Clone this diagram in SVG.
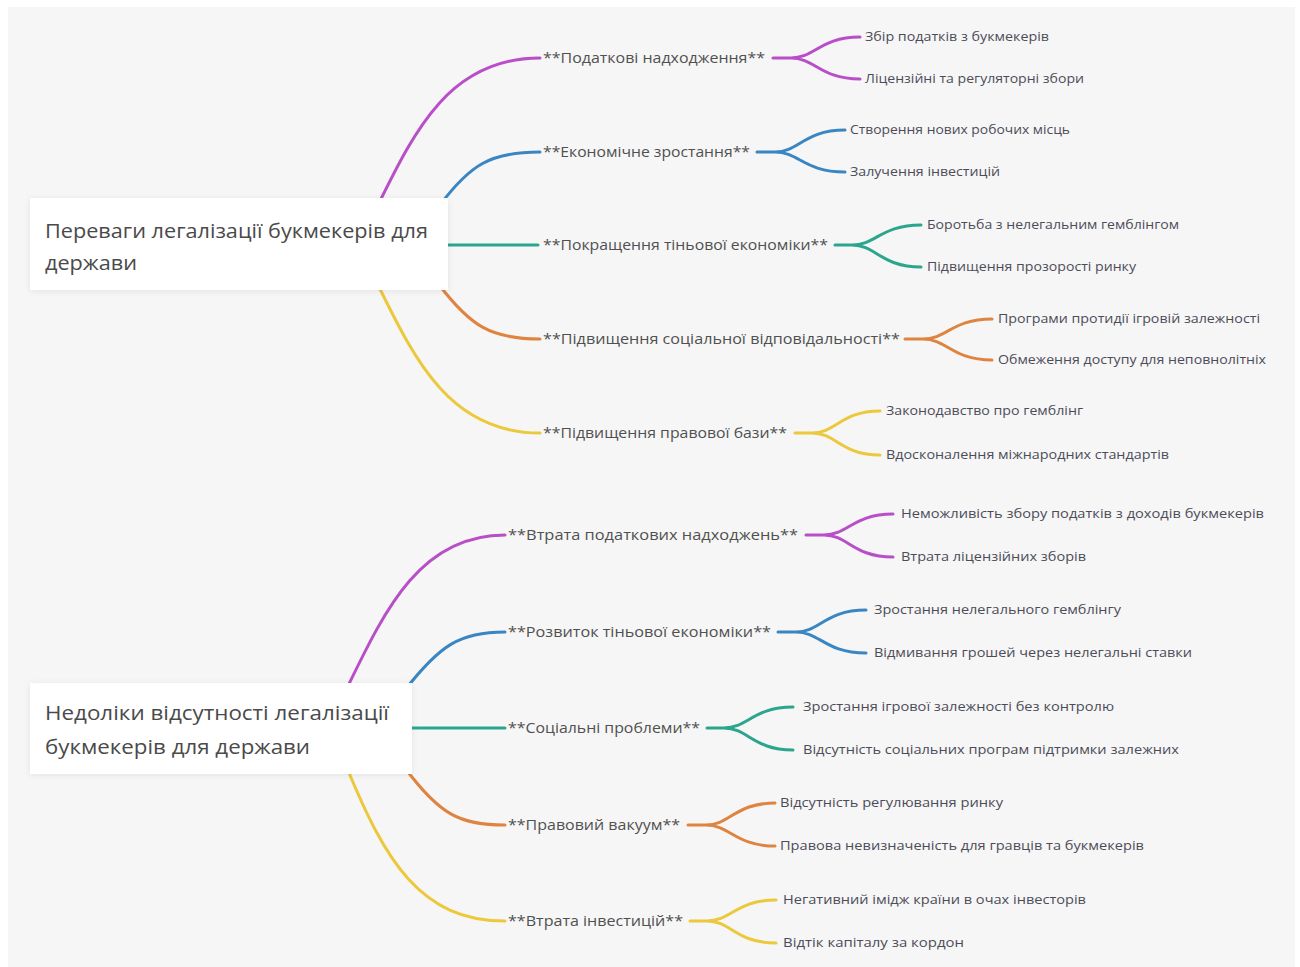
<svg xmlns="http://www.w3.org/2000/svg" width="1300" height="967" viewBox="0 0 1300 967">
<defs>
<filter id="sh" x="-10%" y="-20%" width="120%" height="140%">
<feDropShadow dx="0" dy="1" stdDeviation="3" flood-color="#000" flood-opacity="0.08"/>
</filter>
</defs>
<style>
.bg{fill:#f6f6f6}
.box{fill:#ffffff;filter:url(#sh)}
.root{font-family:"Open Sans","Noto Sans","DejaVu Sans",sans-serif;font-size:20px;fill:#4a4a4a;font-weight:500}
.l1{font-family:"Open Sans","Noto Sans","DejaVu Sans",sans-serif;font-size:15px;fill:#505050}
.l2{font-family:"Open Sans","Noto Sans","DejaVu Sans",sans-serif;font-size:12px;fill:#4c4c58}
.c{fill:none;stroke-width:3;stroke-linecap:round}
.pu{stroke:#b94fc8}
.bl{stroke:#3a86c2}
.te{stroke:#2ba68d}
.or{stroke:#de8440}
.ye{stroke:#ecc83c}
</style>
<rect x="0" y="0" width="1300" height="967" fill="#ffffff"/>
<rect class="bg" x="8" y="7" width="1287" height="960"/>

<g id="connectors">
<!-- top tree level 1 -->
<path class="c pu" d="M378,205 C415,130 450,58 540,58"/>
<path class="c bl" d="M440,205 C470,165 490,152 540,152"/>
<path class="c te" d="M445,245 H538"/>
<path class="c or" d="M440,286 C470,325 490,339 540,339"/>
<path class="c ye" d="M378,285 C415,360 450,433 540,433"/>
<!-- top tree level 2 -->
<path class="c pu" d="M773,58 L791,58 C815,58 820,37 860,37 M791,58 C815,58 820,79 860,79"/>
<path class="c bl" d="M757,152 L775,152 C799,152 804,130 845,130 M775,152 C799,152 804,172 845,172"/>
<path class="c te" d="M835,245 L852,245 C876,245 881,225 921,225 M852,245 C876,245 881,267 921,267"/>
<path class="c or" d="M905,339 L923,339 C947,339 952,319 992,319 M923,339 C947,339 952,360 992,360"/>
<path class="c ye" d="M795,433 L812,433 C836,433 841,411 880,411 M812,433 C836,433 841,455 880,455"/>
<!-- bottom tree level 1 -->
<path class="c pu" d="M347,688 C385,610 420,535 505,535"/>
<path class="c bl" d="M405,690 C440,645 460,632 505,632"/>
<path class="c te" d="M408,728 H505"/>
<path class="c or" d="M405,768 C440,815 460,825 505,825"/>
<path class="c ye" d="M347,768 C385,860 420,921 505,921"/>
<!-- bottom tree level 2 -->
<path class="c pu" d="M806,535 L824,535 C848,535 853,514 893,514 M824,535 C848,535 853,557 893,557"/>
<path class="c bl" d="M778,632 L796,632 C820,632 825,610 866,610 M796,632 C820,632 825,653 866,653"/>
<path class="c te" d="M707,728 L724,728 C748,728 753,707 793,707 M724,728 C748,728 753,750 793,750"/>
<path class="c or" d="M688,825 L706,825 C730,825 735,803 775,803 M706,825 C730,825 735,846 775,846"/>
<path class="c ye" d="M690,921 L707,921 C731,921 736,900 776,900 M707,921 C731,921 736,943 776,943"/>
</g>

<g id="root1">
<rect class="box" x="30" y="198" width="418" height="92"/>
<text class="root" x="45" y="238" textLength="383" lengthAdjust="spacingAndGlyphs">Переваги легалізації букмекерів для</text>
<text class="root" x="45" y="270" textLength="92" lengthAdjust="spacingAndGlyphs">держави</text>
</g>

<g id="root2">
<rect class="box" x="30" y="683" width="382" height="91"/>
<text class="root" x="45" y="720" textLength="344" lengthAdjust="spacingAndGlyphs">Недоліки відсутності легалізації</text>
<text class="root" x="45" y="754" textLength="265" lengthAdjust="spacingAndGlyphs">букмекерів для держави</text>
</g>

<g id="n-podatkovi"><text class="l1" x="543" y="63" textLength="222" lengthAdjust="spacingAndGlyphs">**Податкові надходження**</text></g>
<g id="n-zbir"><text class="l2" x="865" y="41" textLength="184" lengthAdjust="spacingAndGlyphs">Збір податків з букмекерів</text></g>
<g id="n-litsenziini"><text class="l2" x="865" y="83" textLength="219" lengthAdjust="spacingAndGlyphs">Ліцензійні та регуляторні збори</text></g>

<g id="n-ekonomichne"><text class="l1" x="543" y="157" textLength="207" lengthAdjust="spacingAndGlyphs">**Економічне зростання**</text></g>
<g id="n-stvorennia"><text class="l2" x="850" y="134" textLength="220" lengthAdjust="spacingAndGlyphs">Створення нових робочих місць</text></g>
<g id="n-zaluchennia"><text class="l2" x="850" y="176" textLength="150" lengthAdjust="spacingAndGlyphs">Залучення інвестицій</text></g>

<g id="n-pokrashchennia"><text class="l1" x="543" y="250" textLength="285" lengthAdjust="spacingAndGlyphs">**Покращення тіньової економіки**</text></g>
<g id="n-borotba"><text class="l2" x="927" y="229" textLength="252" lengthAdjust="spacingAndGlyphs">Боротьба з нелегальним гемблінгом</text></g>
<g id="n-prozorist"><text class="l2" x="927" y="271" textLength="209" lengthAdjust="spacingAndGlyphs">Підвищення прозорості ринку</text></g>

<g id="n-sotsialna"><text class="l1" x="543" y="344" textLength="357" lengthAdjust="spacingAndGlyphs">**Підвищення соціальної відповідальності**</text></g>
<g id="n-programy"><text class="l2" x="998" y="323" textLength="262" lengthAdjust="spacingAndGlyphs">Програми протидії ігровій залежності</text></g>
<g id="n-obmezhennia"><text class="l2" x="998" y="364" textLength="268" lengthAdjust="spacingAndGlyphs">Обмеження доступу для неповнолітніх</text></g>

<g id="n-pravova"><text class="l1" x="543" y="438" textLength="244" lengthAdjust="spacingAndGlyphs">**Підвищення правової бази**</text></g>
<g id="n-zakonodavstvo"><text class="l2" x="886" y="415" textLength="197" lengthAdjust="spacingAndGlyphs">Законодавство про гемблінг</text></g>
<g id="n-vdoskonalennia"><text class="l2" x="886" y="459" textLength="283" lengthAdjust="spacingAndGlyphs">Вдосконалення міжнародних стандартів</text></g>

<g id="n-vtrata-podatkovykh"><text class="l1" x="508" y="540" textLength="290" lengthAdjust="spacingAndGlyphs">**Втрата податкових надходжень**</text></g>
<g id="n-nemozhlyvist"><text class="l2" x="901" y="518" textLength="363" lengthAdjust="spacingAndGlyphs">Неможливість збору податків з доходів букмекерів</text></g>
<g id="n-vtrata-litsenziinykh"><text class="l2" x="901" y="561" textLength="185" lengthAdjust="spacingAndGlyphs">Втрата ліцензійних зборів</text></g>

<g id="n-rozvytok"><text class="l1" x="508" y="637" textLength="263" lengthAdjust="spacingAndGlyphs">**Розвиток тіньової економіки**</text></g>
<g id="n-zrostannia-heml"><text class="l2" x="874" y="614" textLength="247" lengthAdjust="spacingAndGlyphs">Зростання нелегального гемблінгу</text></g>
<g id="n-vidmyvannia"><text class="l2" x="874" y="657" textLength="318" lengthAdjust="spacingAndGlyphs">Відмивання грошей через нелегальні ставки</text></g>

<g id="n-sotsialni"><text class="l1" x="508" y="733" textLength="192" lengthAdjust="spacingAndGlyphs">**Соціальні проблеми**</text></g>
<g id="n-zrostannia-zal"><text class="l2" x="803" y="711" textLength="311" lengthAdjust="spacingAndGlyphs">Зростання ігрової залежності без контролю</text></g>
<g id="n-vidsutnist-prog"><text class="l2" x="803" y="754" textLength="376" lengthAdjust="spacingAndGlyphs">Відсутність соціальних програм підтримки залежних</text></g>

<g id="n-pravovyi"><text class="l1" x="508" y="830" textLength="172" lengthAdjust="spacingAndGlyphs">**Правовий вакуум**</text></g>
<g id="n-rehuliuvannia"><text class="l2" x="780" y="807" textLength="223" lengthAdjust="spacingAndGlyphs">Відсутність регулювання ринку</text></g>
<g id="n-nevyznachenist"><text class="l2" x="780" y="850" textLength="364" lengthAdjust="spacingAndGlyphs">Правова невизначеність для гравців та букмекерів</text></g>

<g id="n-vtrata-investytsii"><text class="l1" x="508" y="926" textLength="175" lengthAdjust="spacingAndGlyphs">**Втрата інвестицій**</text></g>
<g id="n-imidzh"><text class="l2" x="783" y="904" textLength="303" lengthAdjust="spacingAndGlyphs">Негативний імідж країни в очах інвесторів</text></g>
<g id="n-vidtik"><text class="l2" x="783" y="947" textLength="181" lengthAdjust="spacingAndGlyphs">Відтік капіталу за кордон</text></g>
</svg>
